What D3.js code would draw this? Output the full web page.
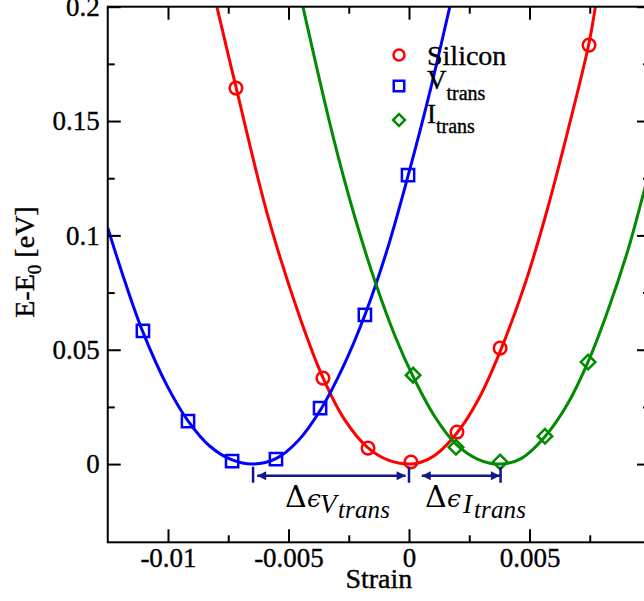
<!DOCTYPE html>
<html>
<head>
<meta charset="utf-8">
<script src="https://cdn.jsdelivr.net/npm/d3@7"></script>
<style>
  body { margin: 0; background: #fff; }
  svg { display: block; }
</style>
</head>
<body>
<svg id="chart" width="644" height="601" font-family="Liberation Serif"></svg>
<script>
// Strain vs. energy, three fitted curves

var strainTicks = [-0.01, -0.005, 0, 0.005]
  , strainTickLabels = ["-0.01", "-0.005", "0", "0.005"]
  , strainMinor = [-0.0075, -0.0025, 0.0025, 0.0075]
  , energyTicks = [0, 0.05, 0.1, 0.15, 0.2]
  , energyTickLabels = ["0", "0.05", "0.1", "0.15", "0.2"]
  , energyMinor = [0.025, 0.075, 0.125, 0.175]
  ;

// Markers
var siliconStrain = [-0.00718, -0.00357, -0.0017, 0.00008, 0.00199, 0.00378, 0.00747]
  , siliconEnergy = [0.1644, 0.0376, 0.0070, 0.0009, 0.0140, 0.0507, 0.1832]
  , vacStrain = [-0.01104, -0.00917, -0.00734, -0.00552, -0.00369, -0.00183, -0.00004]
  , vacEnergy = [0.0582, 0.0188, 0.0013, 0.0022, 0.0245, 0.0652, 0.1264]
  , intStrain = [0.00017, 0.00195, 0.00378, 0.00564, 0.00743]
  , intEnergy = [0.0389, 0.0074, 0.0009, 0.0122, 0.0446]
  ;

// Fitted curves
var siliconFitStrain = [-0.00797, -0.00718, -0.00585, -0.00452, -0.00357, -0.0027, -0.0017, -0.00083, 0, 0.00046, 0.00108, 0.00199, 0.0029, 0.00378, 0.00477, 0.00564, 0.00664, 0.00747, 0.00776]
  , siliconFitEnergy = [0.1999, 0.1649, 0.1082, 0.0639, 0.0378, 0.0199, 0.0071, 0.0016, 0, 0.0007, 0.0039, 0.0136, 0.0287, 0.0492, 0.0774, 0.1076, 0.1478, 0.1841, 0.2019]
  , vacFitStrain = [-0.0125, -0.01178, -0.01104, -0.01004, -0.00917, -0.00826, -0.00734, -0.00647, -0.00552, -0.00461, -0.00365, -0.00274, -0.00183, -0.00091, -0.00004, 0.00083, 0.0017]
  , vacFitEnergy = [0.1033, 0.0796, 0.0577, 0.0343, 0.0189, 0.0078, 0.0018, 0, 0.0024, 0.0101, 0.0241, 0.0424, 0.0652, 0.0936, 0.1260, 0.1612, 0.2003]
  , intFitStrain = [-0.0044, -0.00315, -0.00224, -0.00137, -0.00058, 0.00017, 0.00108, 0.00195, 0.00286, 0.0038, 0.00467, 0.00562, 0.00656, 0.00743, 0.00826, 0.00909, 0.00971, 0.01]
  , intFitEnergy = [0.1999, 0.1432, 0.1077, 0.0786, 0.0560, 0.0383, 0.0206, 0.0087, 0.0021, 0, 0.0025, 0.0117, 0.0259, 0.0447, 0.0674, 0.0938, 0.1176, 0.1290]
  ;

// Minimum positions used for the delta-strain arrows
var vacMin = -0.00647, siliconMin = 0, intMin = 0.0038;

var svg = d3.select("#chart");

var x = d3.scaleLinear().domain([-0.0125, 0.01]).range([107.75, 650])
  , y = d3.scaleLinear().domain([-0.0342, 0.2]).range([542.3, 6.7])
  ;

var plotLeft = x.range()[0], plotRight = x.range()[1]
  , plotTop = y.range()[1], plotBottom = y.range()[0];

var defs = svg.append("defs");
defs.append("clipPath").attr("id", "plot-clip")
    .append("rect")
    .attr("x", plotLeft).attr("y", plotTop)
    .attr("width", plotRight - plotLeft).attr("height", plotBottom - plotTop);

function zip(xs, ys) {
  return xs.map(function (v, i) { return [v, ys[i]]; });
}

// Heavier text, the original looks slightly bold
function ink(sel) {
  return sel.attr("fill", "#000").attr("stroke", "#000").attr("stroke-width", 0.35);
}

// Curves
var line = d3.line()
             .x(function (d) { return x(d[0]); })
             .y(function (d) { return y(d[1]); })
             .curve(d3.curveCatmullRom.alpha(0.5));

var curves = svg.append("g").attr("clip-path", "url(#plot-clip)");
[[siliconFitStrain, siliconFitEnergy, "#ff0000"],
 [vacFitStrain, vacFitEnergy, "#0000ff"],
 [intFitStrain, intFitEnergy, "#008b00"]].forEach(function (c) {
  curves.append("path")
        .attr("d", line(zip(c[0], c[1])))
        .attr("fill", "none")
        .attr("stroke", c[2])
        .attr("stroke-width", 3);
});

// Markers
var marks = svg.append("g");
marks.selectAll("circle.si")
     .data(zip(siliconStrain, siliconEnergy))
     .enter().append("circle")
     .attr("class", "si")
     .attr("cx", function (d) { return x(d[0]); })
     .attr("cy", function (d) { return y(d[1]); })
     .attr("r", 6.3)
     .attr("fill", "none").attr("stroke", "#ff0000").attr("stroke-width", 2.5);

marks.selectAll("path.vac")
     .data(zip(vacStrain, vacEnergy))
     .enter().append("path")
     .attr("class", "vac")
     .attr("d", d3.symbol(d3.symbolSquare, 150)())
     .attr("transform", function (d) { return "translate(" + x(d[0]) + "," + y(d[1]) + ")"; })
     .attr("fill", "none").attr("stroke", "#0000ff").attr("stroke-width", 2.5);

marks.selectAll("path.int")
     .data(zip(intStrain, intEnergy))
     .enter().append("path")
     .attr("class", "int")
     .attr("d", d3.symbol(d3.symbolSquare, 105)())
     .attr("transform", function (d) { return "translate(" + x(d[0]) + "," + y(d[1]) + ") rotate(45)"; })
     .attr("fill", "none").attr("stroke", "#008b00").attr("stroke-width", 2.5);

// Axes: ticks pointing inward on all four sides
function tickAxis(axis, pos, values, size, labels) {
  var g = svg.append("g").attr("transform", pos);
  axis.tickValues(values).tickSize(-size).tickPadding(labels ? 8 : 0)
      .tickFormat(function (d, i) { return labels ? labels[i] : ""; });
  g.call(axis);
  g.attr("font-family", null).attr("font-size", null);
  g.select(".domain").remove();
  g.selectAll("line").attr("stroke", "#000").attr("stroke-width", 2);
  ink(g.selectAll("text")).attr("font-size", 27);
  return g;
}

var xb = tickAxis(d3.axisBottom(x), "translate(0," + plotBottom + ")", strainTicks, 13, strainTickLabels);
xb.selectAll("text").attr("dy", null).attr("y", 25);
tickAxis(d3.axisBottom(x), "translate(0," + plotBottom + ")", strainMinor, 7);
tickAxis(d3.axisTop(x), "translate(0," + plotTop + ")", strainTicks, 13);
tickAxis(d3.axisTop(x), "translate(0," + plotTop + ")", strainMinor, 7);
tickAxis(d3.axisLeft(y), "translate(" + plotLeft + ",0)", energyTicks, 13, energyTickLabels);
tickAxis(d3.axisLeft(y), "translate(" + plotLeft + ",0)", energyMinor, 7);
tickAxis(d3.axisRight(y), "translate(" + plotRight + ",0)", energyTicks, 13);
tickAxis(d3.axisRight(y), "translate(" + plotRight + ",0)", energyMinor, 7);

svg.append("rect")
   .attr("x", plotLeft).attr("y", plotTop)
   .attr("width", plotRight - plotLeft).attr("height", plotBottom - plotTop)
   .attr("fill", "none").attr("stroke", "#000").attr("stroke-width", 2);

// Axis titles
ink(svg.append("text"))
   .attr("x", (plotLeft + plotRight) / 2).attr("y", 588)
   .attr("text-anchor", "middle")
   .attr("font-size", 28)
   .text("Strain");

var yt = ink(svg.append("text"))
   .attr("transform", "translate(34,262) rotate(-90)")
   .attr("text-anchor", "middle")
   .attr("font-size", 28);
yt.append("tspan").text("E-E");
yt.append("tspan").attr("dy", 7).attr("font-size", 19).text("0");
yt.append("tspan").attr("dy", -7).text(" [eV]");

// Delta-strain arrows
var navy = "#14148c", arrowY = y(-0.0051);

defs.append("marker")
    .attr("id", "head")
    .attr("viewBox", "0 0 10 10")
    .attr("refX", 10).attr("refY", 5)
    .attr("markerUnits", "userSpaceOnUse")
    .attr("markerWidth", 10).attr("markerHeight", 9)
    .attr("orient", "auto-start-reverse")
    .append("path").attr("d", "M0,0L10,5L0,10z").attr("fill", navy);

[vacMin, siliconMin, intMin].forEach(function (m) {
  svg.append("line")
     .attr("x1", x(m)).attr("x2", x(m))
     .attr("y1", arrowY - 9).attr("y2", arrowY + 7)
     .attr("stroke", navy).attr("stroke-width", 2.5);
});

[[vacMin + 0.00017, siliconMin - 0.00014], [siliconMin + 0.00053, intMin - 0.00003]].forEach(function (a) {
  svg.append("line")
     .attr("x1", x(a[0])).attr("x2", x(a[1]))
     .attr("y1", arrowY).attr("y2", arrowY)
     .attr("stroke", navy).attr("stroke-width", 2.5)
     .attr("marker-start", "url(#head)")
     .attr("marker-end", "url(#head)");
});

// Math labels: Delta epsilon with a subscripted symbol and "trans"
function deltaLabel(x0, letter, letterAt, transAt) {
  var t = svg.append("text").attr("y", 507).attr("fill", "#000");
  t.append("tspan").attr("x", x0).attr("font-family", "DejaVu Serif").attr("font-size", 30).text("\u0394");
  t.append("tspan").attr("x", x0 + 22).attr("font-family", "DejaVu Serif").attr("font-size", 25)
   .attr("font-style", "italic").text("\u03f5");
  t.append("tspan").attr("x", x0 + letterAt).attr("y", 513).attr("font-size", 27)
   .attr("font-style", "italic").text(letter);
  t.append("tspan").attr("x", x0 + transAt).attr("y", 518).attr("font-size", 25)
   .attr("font-style", "italic").attr("textLength", 52).text("trans");
}
deltaLabel(285, "V", 35, 53);
deltaLabel(425, "I", 38, 49);

// Legend
var legend = svg.append("g");
legend.append("circle").attr("cx", 399).attr("cy", 55).attr("r", 5.5)
      .attr("fill", "none").attr("stroke", "#ff0000").attr("stroke-width", 2.5);
legend.append("path").attr("d", d3.symbol(d3.symbolSquare, 110)())
      .attr("transform", "translate(399,86)")
      .attr("fill", "none").attr("stroke", "#0000ff").attr("stroke-width", 2.5);
legend.append("path").attr("d", d3.symbol(d3.symbolSquare, 70)())
      .attr("transform", "translate(399,120) rotate(45)")
      .attr("fill", "none").attr("stroke", "#008b00").attr("stroke-width", 2.5);

ink(legend.append("text")).attr("x", 427).attr("y", 65).attr("font-size", 28).text("Silicon");
var lv = ink(legend.append("text")).attr("x", 427).attr("y", 89).attr("font-size", 27);
lv.append("tspan").text("V");
lv.append("tspan").attr("dy", 11).attr("font-size", 20).text("trans");
var li = ink(legend.append("text")).attr("x", 427).attr("y", 123).attr("font-size", 27);
li.append("tspan").text("I");
li.append("tspan").attr("dy", 10).attr("font-size", 20).text("trans");
</script>
</body>
</html>
